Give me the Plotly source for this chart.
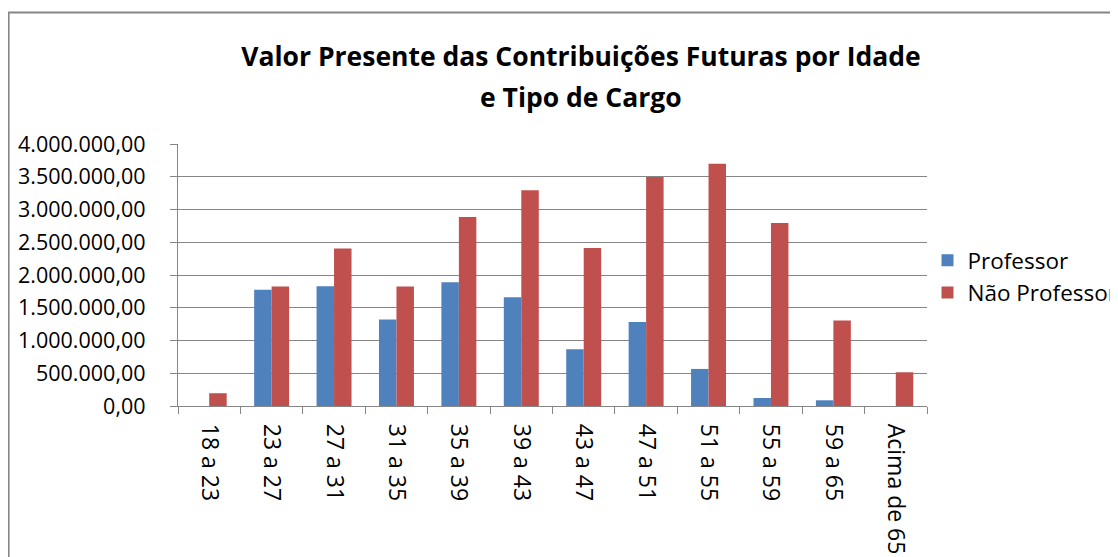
import plotly.graph_objects as go

categories = ["18 a 23", "23 a 27", "27 a 31", "31 a 35", "35 a 39", "39 a 43",
              "43 a 47", "47 a 51", "51 a 55", "55 a 59", "59 a 65", "Acima de 65"]
professor = [0, 1775000, 1830000, 1320000, 1890000, 1662000,
             866000, 1284000, 566000, 122000, 87000, 0]
nao_professor = [195000, 1825000, 2406000, 1825000, 2885000, 3293000,
                 2411000, 3497000, 3700000, 2793000, 1305000, 515000]
y_ticks = [0, 500000, 1000000, 1500000, 2000000, 2500000, 3000000, 3500000, 4000000]

# The page body adds an 8 px margin, so the figure is 8 px smaller and all
# pixel positions below are given in screen coordinates and converted.
OFF = 8
W, H = 1118 - OFF, 557 - OFF
L, R, T, B = 178 - OFF, 927.5 - OFF, 144 - OFF, 406 - OFF
pw, ph = R - L, B - T

def px_x(x):
    return (x - OFF - L) / pw

def px_y(y):
    return (B - (y - OFF)) / ph

FONT = "Open Sans"

fig = go.Figure()
fig.add_trace(go.Bar(name="Professor", x=categories, y=professor,
                     marker=dict(color="#4F81BD", line=dict(width=0))))
fig.add_trace(go.Bar(name="Não Professor", x=categories, y=nao_professor,
                     marker=dict(color="#C0504D", line=dict(width=0))))

fig.update_layout(
    width=W, height=H,
    margin=dict(l=L, r=W - R, t=T, b=H - B, pad=0, autoexpand=False),
    paper_bgcolor="white", plot_bgcolor="white",
    separators=",.",
    barmode="group", bargap=0.44, bargroupgap=0,
    font=dict(family=FONT, size=22, color="black"),
    title=dict(text="<b>Valor Presente das Contribuições Futuras por Idade</b>",
               x=(581 - OFF) / W, xanchor="center", y=1 - (57 - OFF) / H, yanchor="middle",
               yref="container", font=dict(family=FONT, size=26.5, color="black")),
    legend=dict(x=px_x(928), xanchor="left", y=px_y(276.5), yanchor="middle",
                font=dict(family=FONT, size=22.5, color="black"),
                bgcolor="rgba(0,0,0,0)"),
    showlegend=True,
)

fig.add_annotation(text="<b>e Tipo de Cargo</b>", xref="paper", yref="paper",
                   x=px_x(581), y=px_y(97), xanchor="center", yanchor="middle",
                   showarrow=False, font=dict(family=FONT, size=26.5, color="black"))

fig.update_xaxes(
    type="category", tickangle=90, tickson="boundaries",
    ticks="outside", ticklen=7, tickcolor="#868686", tickwidth=1.3,
    showline=True, linecolor="#868686", linewidth=1.3,
    showgrid=False, ticklabelstandoff=12, automargin=False,
    tickfont=dict(family=FONT, size=23, color="black"),
)
fig.update_yaxes(
    range=[0, 4000000], tickvals=y_ticks, tickformat=",.2f",
    ticks="outside", ticklen=7, tickcolor="#868686", tickwidth=1.3,
    showline=True, linecolor="#868686", linewidth=1.3,
    showgrid=True, gridcolor="#868686", gridwidth=1.3,
    zeroline=False, ticklabelstandoff=20, automargin=False,
    tickfont=dict(family=FONT, size=21.5, color="black"),
)

# Outer chart border (left and top edges visible in the crop)
fig.add_shape(type="line", xref="paper", yref="paper",
              x0=px_x(8.5), x1=px_x(8.5), y0=px_y(12.5), y1=px_y(600),
              line=dict(color="#868686", width=2))
fig.add_shape(type="line", xref="paper", yref="paper",
              x0=px_x(8), x1=px_x(1130), y0=px_y(12.5), y1=px_y(12.5),
              line=dict(color="#868686", width=2))

fig.write_html("out.html")
